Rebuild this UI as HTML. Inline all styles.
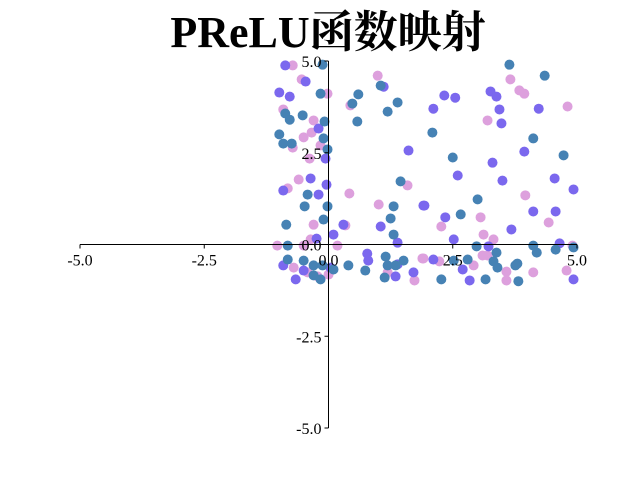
<!DOCTYPE html>
<html><head><meta charset="utf-8"><style>
html,body{margin:0;padding:0;background:#fff;width:640px;height:480px;overflow:hidden}
svg text{font-family:"Liberation Serif","Noto Serif CJK SC",serif}
</style></head><body>
<svg id="chart" width="640" height="480">
<text x="328" y="47" text-anchor="middle" font-size="44" font-weight="bold">PReLU函数映射</text>
<g id="marks"></g>
<g id="axes"></g>
</svg>
<script>
const xTicks=[-5,-2.5,0,2.5,5];
const yTicks=[-5,-2.5,0,2.5,5];
const plumX=[-0.72,-0.54,-0.02,0.99,0.44,-0.91,-0.3,-0.34,-0.5,-0.16,-0.72,-0.38,-0.6,-0.82,0.42,1.59,1.01,-0.3,0.34,-0.36,0.18,-1.03,-0.5,-0.7,-0.42,-0.22,0.0,1.73,1.19,1.89,3.66,3.84,3.94,4.81,3.2,3.96,3.06,4.43,2.27,3.12,3.32,3.1,3.2,2.92,3.58,4.12,3.58,4.79,4.91,1.91,2.23];
const plumY=[4.88,4.5,4.11,4.6,3.79,3.68,3.38,3.05,2.92,2.7,2.64,2.34,1.77,1.53,1.39,1.61,1.09,0.54,0.52,0.14,-0.03,-0.03,-0.03,-0.63,-0.76,-0.87,-0.82,-0.98,-0.76,-0.38,4.5,4.2,4.11,3.76,3.38,1.34,0.74,0.6,0.49,0.27,0.14,-0.3,-0.3,-0.57,-0.74,-0.76,-0.98,-0.71,-0.03,-0.38,-0.46];
const purpleX=[-0.87,-0.46,-0.99,-0.78,1.11,-0.2,-0.06,1.61,-0.36,-0.91,-0.2,-0.04,0.3,1.05,0.1,1.39,1.91,-0.24,0.78,0.8,1.39,1.71,1.35,-0.91,-0.66,-0.5,0.04,2.33,2.55,2.11,3.26,3.38,3.44,3.48,4.23,3.94,3.3,2.6,3.5,4.55,4.93,1.93,2.35,4.12,4.57,3.68,2.52,3.22,4.65,2.11,2.7,2.84,4.93];
const purpleY=[4.88,4.44,4.14,4.03,4.3,3.16,2.34,2.56,1.8,1.47,1.36,1.63,0.54,0.49,0.27,0.05,1.06,0.16,-0.25,-0.44,-0.54,-0.76,-0.87,-0.57,-0.95,-0.71,-0.63,4.06,4.0,3.7,4.17,4.03,3.68,3.3,3.7,2.53,2.23,1.88,1.74,1.8,1.5,1.06,0.74,0.9,0.9,0.41,0.14,-0.05,0.03,-0.41,-0.68,-0.98,-0.95];
const blueX=[-0.12,-0.16,1.05,0.6,0.48,1.39,1.19,0.58,-0.87,-0.78,-0.52,-0.08,-0.99,-0.91,-0.74,-0.1,-0.02,1.45,-0.42,-0.48,-0.02,1.31,-0.1,-0.85,1.25,1.31,-0.82,-0.82,-0.5,-0.3,-0.12,-0.3,-0.16,0.4,0.74,1.15,1.19,1.35,1.51,1.13,0.1,3.64,4.35,2.09,4.12,2.5,4.73,3.0,2.66,2.98,3.38,4.12,4.19,4.57,4.93,2.52,2.8,3.32,3.4,3.8,3.76,3.16,3.82,2.27];
const blueY=[4.9,4.11,4.33,4.09,3.84,3.87,3.62,3.35,3.57,3.4,3.52,3.35,3.0,2.75,2.75,2.89,2.59,1.72,1.36,1.04,1.04,1.04,0.68,0.54,0.71,0.27,-0.03,-0.41,-0.44,-0.57,-0.57,-0.84,-0.95,-0.57,-0.71,-0.33,-0.57,-0.57,-0.44,-0.9,-0.68,4.9,4.6,3.05,2.89,2.37,2.43,1.23,0.82,-0.05,-0.22,-0.03,-0.22,-0.14,-0.08,-0.44,-0.41,-0.46,-0.63,-0.52,-0.57,-0.95,-1.0,-0.95];
const NS='http://www.w3.org/2000/svg';
const X0=80,X1=577,Y0=428,Y1=61;
function sx(v){return X0+(v+5)/10*(X1-X0);}
function sy(v){return Y0-(v+5)/10*(Y0-Y1);}
const marks=document.getElementById('marks');
function series(xs,ys,color,name){
  for(let i=0;i<xs.length;i++){
    const c=document.createElementNS(NS,'circle');
    c.setAttribute('cx',sx(xs[i]));c.setAttribute('cy',sy(ys[i]));
    c.setAttribute('r',5);c.setAttribute('fill',color);
    
    
    marks.appendChild(c);
  }
}
series(plumX,plumY,'#dda0dd','plum-point');
series(purpleX,purpleY,'#7b68ee','purple-point');
series(blueX,blueY,'#4682b4','blue-point');
const axes=document.getElementById('axes');
function line(x1,y1,x2,y2,name){
  const l=document.createElementNS(NS,'line');
  l.setAttribute('x1',x1);l.setAttribute('y1',y1);l.setAttribute('x2',x2);l.setAttribute('y2',y2);
  l.setAttribute('stroke','#000');l.setAttribute('stroke-width',1);
  
  
  axes.appendChild(l);
}
function text(x,y,s,anchor,name){
  const t=document.createElementNS(NS,'text');
  t.setAttribute('x',x);t.setAttribute('y',y);t.setAttribute('text-anchor',anchor);
  t.setAttribute('font-size',16);t.textContent=s;
  
  
  axes.appendChild(t);
}
line(X0,sy(0),X1,sy(0),'x-axis');
line(sx(0),Y1,sx(0),Y0,'y-axis');
xTicks.forEach(v=>{line(sx(v),sy(0),sx(v),sy(0)+4,'x-tick');text(sx(v),sy(0)+21,v.toFixed(1),'middle','x-tick-label');});
yTicks.forEach(v=>{line(sx(0)-4,sy(v),sx(0),sy(v),'y-tick');text(sx(0)-7,sy(v)+6,v.toFixed(1),'end','y-tick-label');});
</script>
</body></html>
